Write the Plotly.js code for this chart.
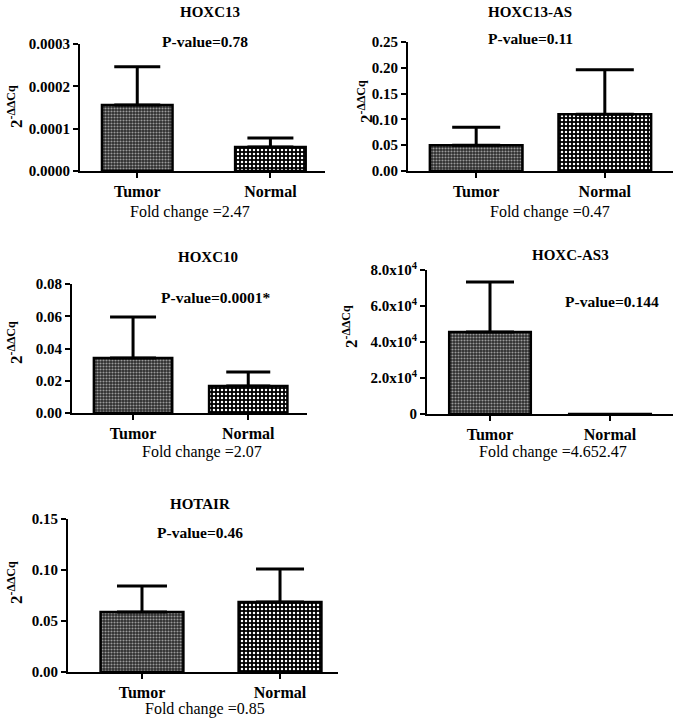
<!DOCTYPE html>
<html>
<head>
<meta charset="utf-8">
<script src="https://cdn.plot.ly/plotly-3.0.1.min.js"></script>
<style>html,body{margin:0;padding:0;background:#fff;}#chart{width:677px;height:725px;}</style>
</head>
<body>
<div id="chart"></div>
<script>
// ---- data ----
const genes = ['HOXC13', 'HOXC13-AS', 'HOXC10', 'HOXC-AS3', 'HOTAIR'];
const groups = ['Tumor', 'Normal'];
const tumorMean = [0.000156, 0.050, 0.0341, 45500, 0.0588];
const tumorErr = [0.000090, 0.035, 0.0254, 27800, 0.0255];
const normalMean = [0.0000567, 0.110, 0.0167, 9.8, 0.0686];
const normalErr = [0.0000213, 0.086, 0.0087, 0, 0.0324];
const pValues = ['P-value=0.78', 'P-value=0.11', 'P-value=0.0001*', 'P-value=0.144', 'P-value=0.46'];
const foldChanges = ['Fold change =2.47', 'Fold change =0.47', 'Fold change =2.07', 'Fold change =4.652.47', 'Fold change =0.85'];
const yMax = [0.0003, 0.25, 0.08, 80000, 0.15];
const yTickVals = [
  [0, 0.0001, 0.0002, 0.0003],
  [0, 0.05, 0.10, 0.15, 0.20, 0.25],
  [0, 0.02, 0.04, 0.06, 0.08],
  [0, 20000, 40000, 60000, 80000],
  [0, 0.05, 0.10, 0.15]
];
const yTickText = [
  ['0.0000', '0.0001', '0.0002', '0.0003'],
  ['0.00', '0.05', '0.10', '0.15', '0.20', '0.25'],
  ['0.00', '0.02', '0.04', '0.06', '0.08'],
  ['0', '2.0x10<sup>4</sup>', '4.0x10<sup>4</sup>', '6.0x10<sup>4</sup>', '8.0x10<sup>4</sup>'],
  ['0.00', '0.05', '0.10', '0.15']
];

// ---- layout geometry (pixels) ----
const W = 677, H = 725;
const panels = [
  {x0: 80, x1: 325, y0: 44, y1: 171, xr: [-0.43, 1.41], bw: 0.53, cap: [23, 23], title: [210, 12], p: [205, 41], fc: [190, 212], yt: [15, 107]},
  {x0: 408, x1: 673, y0: 42, y1: 171, xr: [-0.53, 1.53], bw: 0.72, cap: [24, 29], title: [530, 12], p: [530, 38], fc: [550, 212], yt: [365, 102]},
  {x0: 72, x1: 307, y0: 284, y1: 413, xr: [-0.53, 1.51], bw: 0.68, cap: [23, 22], title: [208, 257], p: [215, 297], fc: [202, 452], yt: [15, 343]},
  {x0: 427, x1: 673, y0: 270, y1: 414, xr: [-0.525, 1.525], bw: 0.68, cap: [24, 0], title: [570, 255], p: [612, 301], fc: [553, 452], yt: [350, 327]},
  {x0: 68, x1: 338, y0: 519, y1: 672, xr: [-0.536, 1.42], bw: 0.60, cap: [25, 24], title: [200, 504], p: [200, 532], fc: [205, 709], yt: [15, 583]}
];

const serif = '"Liberation Serif", "Times New Roman", serif';
const tumorPattern = {shape: '.', fgcolor: '#9a9a9a', bgcolor: '#2c2c2c', size: 3, solidity: 0.4, fillmode: 'replace'};
const normalPattern = {shape: '.', fgcolor: '#ffffff', bgcolor: '#000000', size: 4, solidity: 0.3, fillmode: 'replace'};

const traces = [];
const layout = {
  width: W, height: H,
  margin: {l: 0, r: 0, t: 0, b: 0},
  paper_bgcolor: '#fff', plot_bgcolor: 'rgba(0,0,0,0)',
  showlegend: false,
  barmode: 'overlay',
  font: {family: serif, color: '#000'},
  annotations: []
};

panels.forEach((p, i) => {
  const n = i + 1;
  const xa = n === 1 ? 'x' : 'x' + n;
  const ya = n === 1 ? 'y' : 'y' + n;
  const errStyle = {type: 'data', symmetric: false, arrayminus: [0], color: '#000', thickness: 3};
  traces.push({
    type: 'bar', x: [groups[0]], y: [tumorMean[i]], width: p.bw, xaxis: xa, yaxis: ya,
    marker: {color: '#2c2c2c', pattern: tumorPattern, line: {color: '#000', width: 2.5}},
    error_y: Object.assign({}, errStyle, {array: [tumorErr[i]], width: p.cap[0]}),
    hoverinfo: 'skip'
  });
  traces.push({
    type: 'bar', x: [groups[1]], y: [normalMean[i]], width: p.bw, xaxis: xa, yaxis: ya,
    marker: {color: '#000', pattern: normalPattern, line: {color: '#000', width: 2.5}},
    error_y: Object.assign({}, errStyle, {array: [normalErr[i]], width: p.cap[1]}),
    hoverinfo: 'skip'
  });
  const axCommon = {
    showgrid: false, zeroline: false, showline: true, linecolor: '#000', linewidth: 2,
    ticks: 'outside', ticklen: 5, tickwidth: 2, tickcolor: '#000',
    tickfont: {family: serif, size: 15, color: '#000', weight: 'bold'}, fixedrange: true
  };
  layout['xaxis' + (n === 1 ? '' : n)] = Object.assign({}, axCommon, {
    domain: [p.x0 / W, p.x1 / W], anchor: ya, type: 'category',
    categoryorder: 'array', categoryarray: groups, range: p.xr,
    tickfont: {family: serif, size: 16, color: '#000', weight: 'bold'}
  });
  layout['yaxis' + (n === 1 ? '' : n)] = Object.assign({}, axCommon, {
    domain: [1 - p.y1 / H, 1 - p.y0 / H], anchor: xa, range: [0, yMax[i]],
    tickmode: 'array', tickvals: yTickVals[i], ticktext: yTickText[i]
  });
  layout.annotations.push(
    {text: genes[i], xref: 'paper', yref: 'paper', x: p.title[0] / W, y: 1 - p.title[1] / H,
     showarrow: false, xanchor: 'center', yanchor: 'middle', font: {family: serif, size: 15, color: '#000', weight: 'bold'}},
    {text: pValues[i], xref: 'paper', yref: 'paper', x: p.p[0] / W, y: 1 - p.p[1] / H,
     showarrow: false, xanchor: 'center', yanchor: 'middle', font: {family: serif, size: 15.5, color: '#000', weight: 'bold'}},
    {text: foldChanges[i], xref: 'paper', yref: 'paper', x: p.fc[0] / W, y: 1 - p.fc[1] / H,
     showarrow: false, xanchor: 'center', yanchor: 'middle', font: {family: serif, size: 16, color: '#000'}},
    {text: '2<sup>-ΔΔCq</sup>', xref: 'paper', yref: 'paper', x: p.yt[0] / W, y: 1 - p.yt[1] / H,
     showarrow: false, xanchor: 'center', yanchor: 'middle', textangle: -90, font: {family: serif, size: 17, color: '#000', weight: 'bold'}}
  );
});

Plotly.newPlot('chart', traces, layout, {staticPlot: true, displayModeBar: false});
</script>
</body>
</html>
